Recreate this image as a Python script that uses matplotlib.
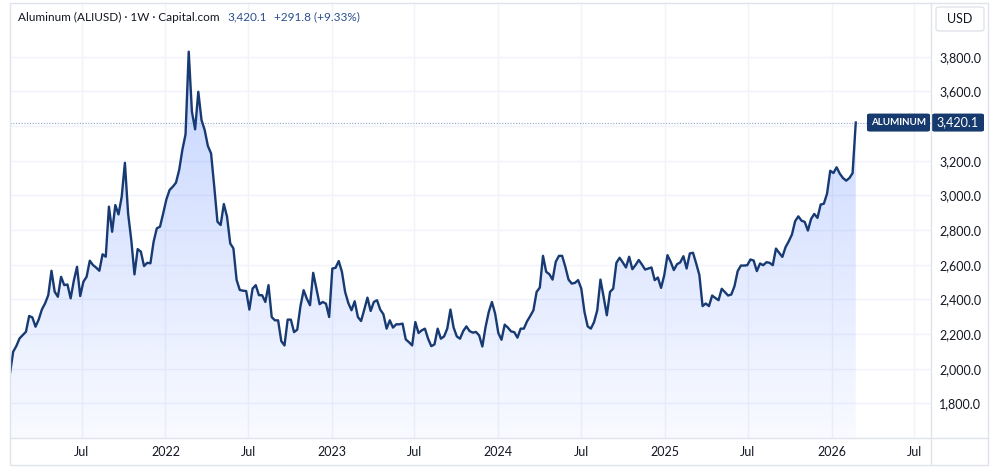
import numpy as np
import pandas as pd
import matplotlib
matplotlib.use("Agg")
import matplotlib.pyplot as plt
import matplotlib.dates as mdates
import matplotlib.colors as mcolors
from matplotlib.patches import Rectangle, FancyBboxPatch
from matplotlib.lines import Line2D

plt.rcParams['font.family'] = ['Lato', 'DejaVu Sans']

# weekly closes, Aluminum (ALIUSD)
prices = [
    1973, 2098, 2131, 2175, 2194, 2213, 2304, 2296, 2242, 2284,
    2342, 2377, 2425, 2565, 2444, 2415, 2530, 2482, 2486, 2406,
    2508, 2588, 2419, 2502, 2530, 2623, 2598, 2583, 2565, 2660,
    2646, 2935, 2790, 2944, 2890, 2992, 3188, 2896, 2742, 2544,
    2690, 2675, 2592, 2611, 2608, 2733, 2810, 2819, 2896, 2977,
    3031, 3050, 3073, 3146, 3262, 3352, 3829, 3483, 3381, 3598,
    3435, 3377, 3285, 3242, 3050, 2848, 2829, 2950, 2877, 2723,
    2694, 2512, 2454, 2450, 2448,
    2341, 2462, 2482, 2424, 2424, 2385, 2482, 2298, 2279, 2279,
    2159, 2134, 2283, 2283, 2211, 2225, 2360, 2453, 2404, 2366,
    2553, 2462, 2372, 2385, 2375, 2298, 2578, 2582, 2621, 2559,
    2443, 2379, 2337, 2389, 2298, 2275, 2341, 2410, 2333, 2385,
    2395, 2341, 2314, 2231, 2279, 2237, 2256, 2256, 2260, 2169,
    2153, 2134, 2269, 2206, 2221, 2231, 2173, 2130, 2140, 2231,
    2173, 2186, 2231, 2341, 2237, 2186, 2173, 2217, 2244, 2217,
    2208, 2212, 2192, 2128, 2240, 2327, 2385, 2318,
    2206, 2167, 2254, 2237, 2215, 2211, 2179, 2231, 2231, 2273,
    2304, 2337, 2443, 2468, 2651, 2559, 2545, 2514, 2617, 2651,
    2651, 2588, 2514, 2491, 2495, 2511, 2462, 2327, 2244, 2231,
    2269, 2337, 2514, 2414, 2308, 2443, 2462, 2611, 2640, 2613,
    2584, 2646, 2574, 2598, 2627, 2601, 2572, 2578, 2584, 2511,
    2526, 2466, 2540, 2655, 2617, 2569, 2603, 2613, 2649, 2578,
    2665, 2669, 2607,
    2540, 2361, 2376, 2361, 2422, 2408, 2395, 2461, 2442, 2422,
    2428, 2476, 2563, 2595, 2595, 2597, 2630, 2624, 2563, 2607,
    2597, 2614, 2611, 2597, 2693, 2668, 2645, 2701, 2735, 2774,
    2851, 2879, 2854, 2847, 2797, 2864, 2893, 2870, 2947, 2952,
    3010, 3142, 3129, 3162, 3125, 3100, 3085, 3100, 3128.3, 3420.1,
]
dates = pd.date_range(end="2026-02-23", periods=len(prices), freq="W-MON")

last_price = 3420.1
change = 291.8
change_pct = 9.33

x_ticks = ["2021-07-01", "2022-01-01", "2022-07-01", "2023-01-01", "2023-07-01",
           "2024-01-01", "2024-07-01", "2025-01-01", "2025-07-01", "2026-01-01",
           "2026-07-01"]
x_labels = ["Jul", "2022", "Jul", "2023", "Jul", "2024", "Jul", "2025", "Jul", "2026", "Jul"]
y_ticks = list(range(1800, 3801, 200))

W, H = 1000, 470
LINE = '#173a72'
GRID = '#f0f3fa'
BORDER = '#e0e3eb'
TXT = '#131722'
BLUE_TXT = '#2a4f8e'
LABEL_BG = '#163a6e'


def fx(px):
    return px / W


def fy(py):
    return 1 - py / H


fig = plt.figure(figsize=(10, 4.7), dpi=100)
ax = fig.add_axes([fx(10), fy(438), fx(931) - fx(10), fy(3) - fy(438)])

xn = mdates.date2num(dates)
ylo, yhi = 1600, 4110
x_right = mdates.date2num(pd.Timestamp("2026-08-07"))

# gradient area under the line
poly = ax.fill_between(xn, prices, ylo, color='none', lw=0)
rgba = np.zeros((256, 1, 4))
rgba[..., :3] = mcolors.to_rgb('#2962ff')
rgba[..., 3] = np.linspace(0.03, 0.27, 256)[:, None]
im = ax.imshow(rgba, extent=[xn[0], xn[-1], ylo, max(prices)], origin='lower',
               aspect='auto', zorder=1, interpolation='bilinear')
im.set_clip_path(poly.get_paths()[0], transform=ax.transData)

ax.plot(xn, prices, color=LINE, lw=1.7, zorder=3, solid_joinstyle='round')
ax.axhline(last_price, color='#8aa6d2', lw=0.8, ls=(0, (1, 1.5)), zorder=2)

ax.set_xlim(xn[0], x_right)
ax.set_ylim(ylo, yhi)

ax.set_xticks(mdates.date2num(pd.to_datetime(x_ticks)))
ax.set_xticklabels(x_labels)
ax.set_yticks(y_ticks)
# the 3,400.0 label sits behind the last-price tag
ax.set_yticklabels(["" if abs(v - last_price) < 60 else f"{v:,.1f}" for v in y_ticks])
ax.yaxis.tick_right()
ax.tick_params(axis='both', length=0, colors=TXT, labelsize=9)
ax.tick_params(axis='x', pad=6)
ax.tick_params(axis='y', pad=6)
ax.grid(True, color=GRID, lw=1)
ax.set_axisbelow(True)
for s in ax.spines.values():
    s.set_visible(False)

# outer frame and separators
fig.patches.append(Rectangle((fx(10), fy(465)), fx(988) - fx(10), fy(3) - fy(465),
                             transform=fig.transFigure, fill=False, ec=BORDER, lw=1))
fig.lines.append(Line2D([fx(10), fx(988)], [fy(438), fy(438)], transform=fig.transFigure,
                        color=BORDER, lw=1))
fig.lines.append(Line2D([fx(931), fx(931)], [fy(3), fy(465)], transform=fig.transFigure,
                        color=BORDER, lw=1))

# USD box
fig.patches.append(FancyBboxPatch((fx(936), fy(31)), fx(984) - fx(936), fy(7) - fy(31),
                                  boxstyle="round,pad=0,rounding_size=0.004",
                                  transform=fig.transFigure, fc='white', ec=BORDER, lw=1))
fig.text(fx(960), fy(19), "USD", ha='center', va='center', fontsize=9, color=TXT)

renderer = fig.canvas.get_renderer()


def fit_text(x, y, s, maxw, size, **kw):
    t = fig.text(x, y, s, fontsize=size, **kw)
    while t.get_window_extent(renderer).width > maxw and size > 5:
        size -= 0.25
        t.set_fontsize(size)
    return t


# last price labels
yp = fig.transFigure.inverted().transform(ax.transData.transform((xn[-1], last_price)))[1]
bh = 18 / H
fig.patches.append(FancyBboxPatch((fx(867), yp - bh / 2), fx(930) - fx(867), bh,
                                  boxstyle="round,pad=0,rounding_size=0.003",
                                  transform=fig.transFigure, fc=LABEL_BG, ec='none'))
fig.patches.append(FancyBboxPatch((fx(932), yp - bh / 2), fx(984) - fx(932), bh,
                                  boxstyle="round,pad=0,rounding_size=0.003",
                                  transform=fig.transFigure, fc=LABEL_BG, ec='none'))
fit_text(fx(898.5), yp, "ALUMINUM", 56, 9, ha='center', va='center',
         color='white', weight='bold')
fit_text(fx(958), yp, f"{last_price:,.1f}", 44, 9, ha='center', va='center',
         color='white')

# header: pieces placed one after another
t1 = fit_text(fx(18), fy(17), "Aluminum (ALIUSD) · 1W · Capital.com", 205, 9.5,
              ha='left', va='center', color=TXT)
x_next = 18 + t1.get_window_extent(renderer).width + 8
t2 = fig.text(fx(x_next), fy(17), f"{last_price:,.1f}", ha='left', va='center',
              fontsize=t1.get_fontsize(), color=BLUE_TXT)
x_next += t2.get_window_extent(renderer).width + 7
fig.text(fx(x_next), fy(17), f"+{change:,.1f} (+{change_pct:.2f}%)", ha='left', va='center',
         fontsize=t1.get_fontsize(), color=BLUE_TXT)

fig.savefig("out.png", dpi=100, facecolor='white')
